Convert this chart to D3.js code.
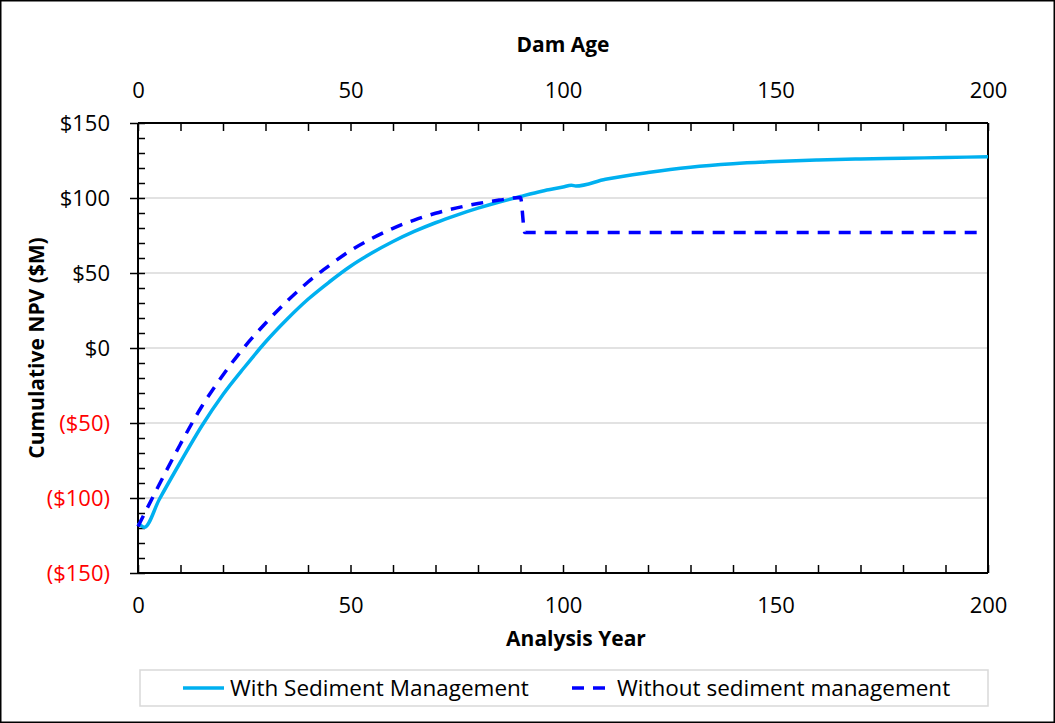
<!DOCTYPE html>
<html>
<head>
<meta charset="utf-8">
<script src="https://cdn.jsdelivr.net/npm/d3@7"></script>
<style>
  body { margin: 0; background: #fff; }
  svg { display: block; }
  text { font-family: "Open Sans", sans-serif; }
</style>
</head>
<body>
<div id="chart"></div>
<script>
// analysis years and cumulative NPV ($M)
const withYears = [0, 1.5, 5, 10, 15, 20, 25, 30, 35, 40, 45, 50, 55, 60, 65, 70, 75, 80, 85, 90, 95, 100, 102, 103, 110, 120, 130, 140, 150, 160, 170, 180, 190, 200];
const withNpv   = [-116.5, -119.5, -101, -76, -52, -31, -13, 4, 19, 32.5, 44, 54.5, 63.3, 71, 77.7, 83.5, 88.6, 93.2, 97.3, 101, 104.5, 107.3, 108.5, 108, 112.5, 117, 120.5, 122.8, 124.3, 125.3, 126, 126.5, 127, 127.5];

const withoutYears = [0, 5, 10, 15, 20, 25, 30, 35, 40, 45, 50, 55, 60, 65, 70, 75, 80, 85, 90, 91, 197.6];
const withoutNpv   = [-119, -91, -64, -39, -18, 0.5, 16.5, 31, 44, 55, 65, 73, 79.8, 85.3, 89.8, 93.4, 96.3, 98.6, 100.3, 77, 77];

const seriesNames = ["With Sediment Management", "Without sediment management"];
const yTicks = [150, 100, 50, 0, -50, -100, -150];
const xTicks = [0, 50, 100, 150, 200];

const W = 1055, H = 723;
const mLeft = 138, mRight = 988, mTop = 123, mBottom = 573;

const svg = d3.select("#chart").append("svg")
  .attr("width", W)
  .attr("height", H);

// outer frame
svg.append("rect")
  .attr("x", 0.75).attr("y", 0.75)
  .attr("width", W - 1.5).attr("height", H - 1.5)
  .attr("fill", "none").attr("stroke", "#000").attr("stroke-width", 1.5);

const x = d3.scaleLinear().domain([0, 200]).range([mLeft, mRight]);
const y = d3.scaleLinear().domain([-150, 150]).range([mBottom, mTop]);

// gridlines
svg.append("g")
  .selectAll("line")
  .data([100, 50, 0, -50, -100])
  .enter().append("line")
    .attr("x1", mLeft).attr("x2", mRight)
    .attr("y1", d => y(d)).attr("y2", d => y(d))
    .attr("stroke", "#d9d9d9").attr("stroke-width", 1.5);

const fmt = d => d < 0 ? "($" + Math.abs(d) + ")" : "$" + d;

// d3 puts font-family="sans-serif" on axis groups, drop it
const labelStyle = g => g.attr("font-family", null).attr("font-size", null)
  .selectAll(".tick text").style("font-size", "22px");

// left axis: minor ticks inside, major ticks crossing
svg.append("g").attr("transform", "translate(" + mLeft + ",0)")
  .call(d3.axisLeft(y).tickValues(d3.range(-150, 151, 10)).tickSize(-7).tickFormat(""))
  .select(".domain").remove();
svg.append("g").attr("transform", "translate(" + mLeft + ",0)")
  .call(d3.axisLeft(y).tickValues(yTicks).tickSize(8).tickPadding(20).tickFormat(fmt))
  .call(g => g.select(".domain").remove())
  .call(labelStyle)
  .call(g => g.selectAll(".tick text").attr("fill", d => d < 0 ? "#ff0000" : "#000"));

// bottom axis, ticks pointing up
svg.append("g").attr("transform", "translate(0," + mBottom + ")")
  .call(d3.axisBottom(x).tickValues(d3.range(0, 201, 10)).tickSize(-8).tickFormat(""))
  .select(".domain").remove();
svg.append("g").attr("transform", "translate(0," + mBottom + ")")
  .call(d3.axisBottom(x).tickValues(xTicks).tickSize(0).tickPadding(24))
  .call(g => g.select(".domain").remove())
  .call(labelStyle)
  .call(g => g.selectAll(".tick text").attr("fill", "#000"));

// top axis (dam age), ticks pointing down
svg.append("g").attr("transform", "translate(0," + mTop + ")")
  .call(d3.axisTop(x).tickValues(d3.range(0, 201, 10)).tickSize(-8).tickFormat(""))
  .select(".domain").remove();
svg.append("g").attr("transform", "translate(0," + mTop + ")")
  .call(d3.axisTop(x).tickValues(xTicks).tickSize(0).tickPadding(25))
  .call(g => g.select(".domain").remove())
  .call(labelStyle)
  .call(g => g.selectAll(".tick text").attr("fill", "#000"));

svg.selectAll(".tick line").attr("stroke", "#000").attr("stroke-width", 1.5);

// axis lines
svg.append("g").attr("stroke", "#000").attr("stroke-width", 2)
  .call(g => {
    g.append("line").attr("x1", mLeft).attr("x2", mRight).attr("y1", mTop).attr("y2", mTop);
    g.append("line").attr("x1", mLeft).attr("x2", mRight).attr("y1", mBottom).attr("y2", mBottom);
    g.append("line").attr("x1", mLeft).attr("x2", mLeft).attr("y1", mTop).attr("y2", mBottom);
    g.append("line").attr("x1", mRight).attr("x2", mRight).attr("y1", mTop).attr("y2", mBottom);
  });

// series lines
const line = d3.line()
  .x(d => x(d[0]))
  .y(d => y(d[1]))
  .curve(d3.curveMonotoneX);

svg.append("path")
  .datum(withYears.map((t, i) => [t, withNpv[i]]))
  .attr("d", line)
  .attr("fill", "none").attr("stroke", "#00b0f0").attr("stroke-width", 3.5)
  .attr("stroke-linejoin", "round");

svg.append("path")
  .datum(withoutYears.map((t, i) => [t, withoutNpv[i]]))
  .attr("d", line)
  .attr("fill", "none").attr("stroke", "#0000ff").attr("stroke-width", 3.5)
  .attr("stroke-dasharray", "12,9");

// axis titles
svg.append("text").attr("x", x(100)).attr("y", 52)
  .attr("text-anchor", "middle").style("font-size", "21px").style("font-weight", "bold")
  .text("Dam Age");
svg.append("text").attr("x", 576).attr("y", 646)
  .attr("text-anchor", "middle").style("font-size", "21px").style("font-weight", "bold")
  .text("Analysis Year");
svg.append("text")
  .attr("transform", "translate(44," + y(0) + ") rotate(-90)")
  .attr("text-anchor", "middle").style("font-size", "21px").style("font-weight", "bold")
  .text("Cumulative NPV ($M)");

// legend
const legend = svg.append("g");
legend.append("rect")
  .attr("x", 140).attr("y", 670).attr("width", 848).attr("height", 36)
  .attr("fill", "#fff").attr("stroke", "#d9d9d9").attr("stroke-width", 1.5);
legend.append("line")
  .attr("x1", 183).attr("x2", 224).attr("y1", 688).attr("y2", 688)
  .attr("stroke", "#00b0f0").attr("stroke-width", 3.5);
legend.append("line")
  .attr("x1", 572).attr("x2", 606).attr("y1", 688).attr("y2", 688)
  .attr("stroke", "#0000ff").attr("stroke-width", 3.5).attr("stroke-dasharray", "12,9");
legend.selectAll("text.lbl")
  .data(seriesNames).enter().append("text")
    .attr("class", "lbl")
    .attr("x", (d, i) => i === 0 ? 230 : 617)
    .attr("y", 696)
    .style("font-size", "22.5px")
    .text(d => d);
</script>
</body>
</html>
